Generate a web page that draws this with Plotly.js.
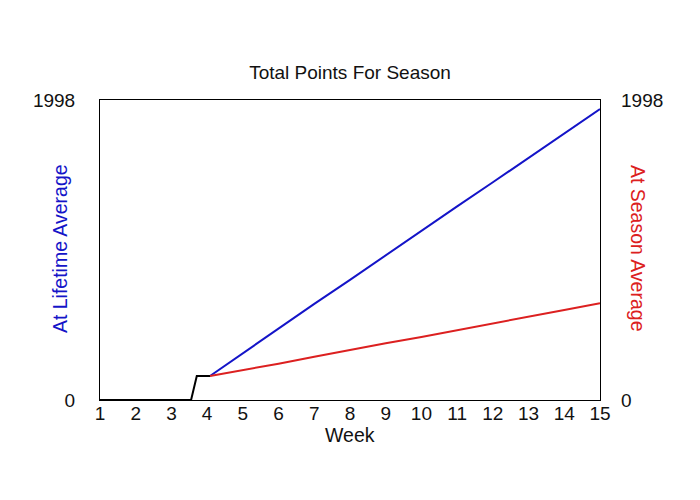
<!DOCTYPE html>
<html>
<head>
<meta charset="utf-8">
<script src="https://cdn.plot.ly/plotly-3.0.1.min.js"></script>
<style>
  html, body { margin: 0; padding: 0; background: #fff; }
  #chart { width: 700px; height: 500px; }
</style>
</head>
<body>
<div id="chart"></div>
<script>
  // weeks played before the averages kick in
  var startWeeks = [1, 2, 3, 3.55, 3.71, 4.08];
  var startPoints = [0, 0, 0, 0, 160, 160];

  // projected totals from week 4 on
  var projWeeks = [4.08, 5, 6, 7, 8, 9, 10, 11, 12, 13, 14, 15];
  var lifetimeAvg = [160, 312, 478, 640, 800, 965, 1125, 1290, 1450, 1612, 1776, 1938];
  var seasonAvg = [160, 198, 242, 288, 335, 378, 420, 466, 510, 555, 600, 644];

  var yMax = 1998;
  var weekTicks = [1, 2, 3, 4, 5, 6, 7, 8, 9, 10, 11, 12, 13, 14, 15];

  var FONT = 'Liberation Sans, Arial, sans-serif';
  var BLUE = '#1414c8';
  var RED = '#dc2020';

  var lifetime = {
    x: projWeeks,
    y: lifetimeAvg,
    mode: 'lines',
    line: {color: BLUE, width: 2},
    type: 'scatter'
  };
  var season = {
    x: projWeeks,
    y: seasonAvg,
    mode: 'lines',
    line: {color: RED, width: 2},
    yaxis: 'y2',
    type: 'scatter'
  };
  var actual = {
    x: startWeeks,
    y: startPoints,
    mode: 'lines',
    line: {color: '#000000', width: 2},
    type: 'scatter'
  };

  var layout = {
    width: 700,
    height: 500,
    showlegend: false,
    paper_bgcolor: '#ffffff',
    plot_bgcolor: '#ffffff',
    margin: {l: 100, r: 100, t: 100, b: 100},
    font: {family: FONT, size: 18, color: '#111111'},
    title: {
      text: 'Total Points For Season',
      font: {family: FONT, size: 19, color: '#111111'},
      x: 0.5, xref: 'paper',
      y: 0.856, yref: 'container', yanchor: 'middle'
    },
    xaxis: {
      range: [1, 15],
      tickvals: weekTicks,
      ticks: '',
      ticklabelstandoff: -4,
      showgrid: false,
      zeroline: false,
      showline: true,
      linecolor: '#000000',
      linewidth: 1,
      mirror: true,
      tickfont: {size: 19}
    },
    yaxis: {
      range: [0, yMax],
      tickvals: [0, yMax],
      ticks: '',
      ticklabelstandoff: 20,
      showgrid: false,
      zeroline: false,
      showline: true,
      linecolor: '#000000',
      linewidth: 1,
      mirror: true,
      tickfont: {size: 19}
    },
    yaxis2: {
      range: [0, yMax],
      tickvals: [0, yMax],
      ticks: '',
      ticklabelstandoff: 20,
      overlaying: 'y',
      side: 'right',
      showgrid: false,
      zeroline: false,
      showline: false,
      tickfont: {size: 19}
    },
    annotations: [
      {
        text: 'Week',
        xref: 'paper', yref: 'paper',
        x: 0.5, y: -0.118,
        xanchor: 'center', yanchor: 'middle',
        showarrow: false,
        font: {family: FONT, size: 19.5, color: '#111111'}
      },
      {
        text: 'At Lifetime Average',
        xref: 'paper', yref: 'paper',
        x: -0.08, y: 0.503,
        xanchor: 'center', yanchor: 'middle',
        textangle: -90,
        showarrow: false,
        font: {family: FONT, size: 19.5, color: BLUE}
      },
      {
        text: 'At Season Average',
        xref: 'paper', yref: 'paper',
        x: 1.076, y: 0.507,
        xanchor: 'center', yanchor: 'middle',
        textangle: 90,
        showarrow: false,
        font: {family: FONT, size: 19.5, color: RED}
      }
    ]
  };

  Plotly.newPlot('chart', [lifetime, season, actual], layout, {displayModeBar: false, staticPlot: true});
</script>
</body>
</html>
